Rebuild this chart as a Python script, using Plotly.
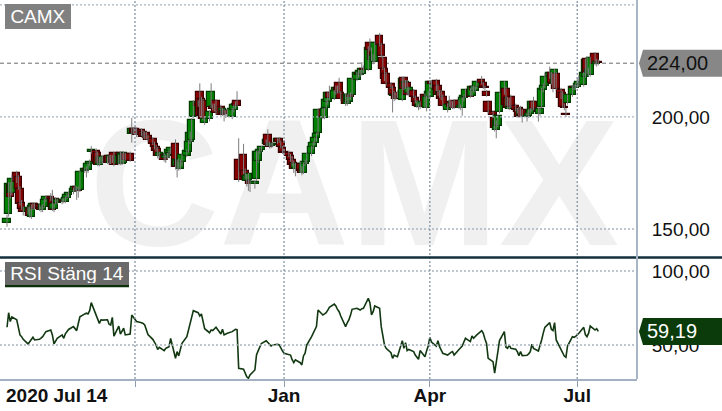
import pandas as pd
import plotly.graph_objects as go

TICKER = "CAMX"
RSI_NAME = "RSI Stäng 14"
START, END = "2020-07-14", "2021-07-14"

# daily OHLC (weekdays), one line per week
opens = [
    152.5, 156.5, 169.5, 166,
    175, 173, 168, 161.6, 159,
    157.8, 159, 155.5, 159.5, 161,
    160.5, 159.5, 158.3, 160, 163,
    164.4, 163.4, 159, 163.4, 161.8,
    162, 162.5, 162, 164, 165,
    166.5, 167.4, 168.8, 168.3, 167.4,
    175.8, 177, 176.3, 179, 184.4,
    185, 184, 178.5, 182, 179.5,
    182, 182.5, 179.5, 182.5, 184,
    179, 184, 179, 179.5, 183.5,
    183.5, 192.4, 194.6, 194.6, 194,
    194, 193.3, 192.5, 192.9, 191.5,
    190, 188, 186.6, 185.7, 182.5,
    183, 181.7, 182.6, 184, 184.8,
    188, 178, 180.5, 177, 180,
    182.6, 184.4, 188.8, 189.7, 200,
    206, 211, 208, 207, 197.5,
    199, 204.5, 204.5, 204, 207,
    204.5, 201.8, 202.7, 201.3, 202.5,
    200, 203, 205.4, 207, 181,
    183, 176, 171.4, 172, 171,
    170, 172.3, 180.4, 184.5, 185.3,
    188, 192, 188, 187, 187.5,
    189, 190, 188.8, 186, 184.5,
    184, 182.6, 181, 179.5, 177,
    179, 176.5, 175, 179, 180,
    183.5, 186.5, 188.5, 190.5, 192.9,
    203, 199.5, 204, 206.7, 210.7,
    208, 211.5, 213, 215, 210.7,
    209.8, 205.8, 206.7, 209.5, 209.8,
    216.5, 219.6, 218.8, 219, 221.4,
    221, 233, 230, 225.4, 224.5,
    236, 232, 226.3, 221.4, 219.2,
    214.7, 213, 209.5, 209.8, 210.8,
    207.6, 217.4, 213.5, 215.3, 210.7,
    211.6, 208.5, 206.7, 205.4, 204.3,
    209.8, 204, 209, 209, 215.6,
    216, 213.8, 209.8, 211, 209,
    203, 205.4, 206.8, 204.6, 207.3,
    207, 204, 204, 208.5, 209,
    212, 209.4, 213.4, 211.7, 213.5,
    216.5, 215, 213.5, 211, 206.7,
    202, 199.5, 194, 196, 202,
    210.7, 212.5, 208.3, 203.4, 209,
    205, 203, 203.9, 200.4, 203,
    200, 200.3, 201.5, 203, 206.7,
    203.5, 201.4, 204.5, 212, 214,
    218, 219.6, 215, 214.5, 219.2,
    212, 210.7, 204.5, 201.5, 206.3,
    209.8, 213.4, 212.8, 213.4, 214.3,
    214.3, 218, 226, 219.6, 218.8,
    228, 223.7, 224.5,
]
highs = [
    156.5, 171, 171, 174,
    176, 174, 169, 163, 160,
    160, 160, 161, 161.5, 161.5,
    161, 160.5, 161, 163.5, 165,
    166, 167.5, 161.5, 164, 163.5,
    163.5, 164, 164.5, 166, 166.5,
    168.5, 169.5, 169, 169, 176,
    177.5, 178, 179.5, 181, 187,
    186, 184.5, 182, 182.5, 182.5,
    182.5, 183, 183, 183, 184.5,
    183, 184.5, 184, 184.5, 184,
    184.5, 199.5, 195.5, 196, 195,
    195, 194, 193.5, 193.5, 192,
    191, 189, 187.5, 186.5, 184.5,
    184, 183, 184, 185.5, 186.5,
    190, 181, 181.5, 181, 183.5,
    185.5, 189.5, 193.5, 199.5, 207.5,
    207.5, 215, 209, 208, 200,
    203, 215, 206, 206, 208,
    205.5, 204, 203.5, 203, 203.5,
    204, 205.5, 207, 211.5, 190.5,
    188, 177, 174.5, 175, 172,
    172, 184.8, 185, 186.5, 187,
    190, 194.5, 189, 188.5, 189,
    190.5, 191, 189.5, 187, 185.5,
    185, 183.5, 182.6, 180.5, 179.5,
    180, 178, 179.5, 181, 184,
    187, 189, 191, 193, 203.5,
    204, 204, 208, 211, 214,
    212, 214, 214, 217.5, 211.5,
    210.5, 210, 210.5, 211, 217.5,
    220, 221, 221, 224.5, 223,
    231.5, 235, 231, 228, 233.5,
    237.5, 233, 227.5, 222, 220,
    215.5, 214, 211.5, 211, 212,
    218, 218, 216.5, 216.5, 213.5,
    212.5, 209.5, 207.5, 206, 207,
    210.5, 209.5, 211.8, 216, 216.5,
    217, 214.5, 212, 212, 210,
    206, 209.5, 207.5, 207, 208,
    207.5, 205.5, 208.8, 210, 212.5,
    213, 213.8, 214, 214, 216,
    218.3, 215.5, 214, 212, 207.5,
    202.5, 200, 198.5, 200.8, 211,
    216, 213.5, 209, 208.5, 210,
    206, 204, 204.5, 205, 203.5,
    202, 203.5, 204, 207, 209,
    204, 204, 213, 215, 219.6,
    222.5, 220, 219.6, 221.5, 220,
    213, 211.5, 206, 204, 210,
    214, 214.5, 215, 217.8, 218.5,
    220, 226, 227, 222, 226.8,
    229, 226, 225.5,
]
lows = [
    151, 155.5, 163.5, 165,
    170.5, 167.5, 160.5, 158.5, 156,
    156.5, 155, 154.5, 158.5, 158.5,
    158, 157.5, 157.5, 159.5, 162,
    162.5, 158, 157.5, 161, 161,
    161, 161.5, 161.5, 163.5, 164,
    165.5, 166.5, 163, 164, 166.5,
    175, 173, 175, 178, 183.5,
    179.5, 178, 178, 179, 179,
    179, 179, 179, 179.5, 178,
    178.5, 178.5, 178.5, 179, 180.5,
    180, 188.5, 192.5, 192.5, 191,
    191.5, 190.5, 190, 190, 189,
    187.5, 185.5, 184.5, 181.5, 181.5,
    180, 179.5, 181, 181.5, 183.5,
    176.5, 173, 176, 176.5, 178,
    182, 184, 188, 189, 199.5,
    204.5, 200, 200.5, 198.5, 196.5,
    198, 204, 203, 202.5, 201,
    200.5, 200.5, 198, 199.5, 200,
    199, 202, 203.5, 204.5, 171,
    174.5, 172, 169, 167, 166.5,
    168, 171.5, 179.5, 183.5, 184.5,
    187, 187, 186, 186, 186.5,
    188, 188.5, 186, 183.5, 183,
    182, 180, 178, 175, 173.5,
    175, 174, 174.5, 178, 179,
    182.5, 185.5, 187.5, 189, 192,
    199, 199, 203.5, 205.5, 207.5,
    207.5, 210, 210.5, 210.5, 207,
    205, 205, 206, 207.5, 209,
    216, 217.5, 218, 218.5, 219.5,
    220.5, 229.5, 225, 223.5, 224,
    231.5, 226.5, 221, 216, 214,
    212.5, 202, 207, 207.5, 208.5,
    207, 212, 212.5, 209.5, 209.5,
    208.5, 206, 204, 203, 203.5,
    204, 202.5, 208, 208.5, 213,
    211.5, 209.5, 208.5, 207.5, 204.5,
    202, 204.5, 204, 203.5, 203.5,
    203.5, 203, 200.5, 207, 208.5,
    208.5, 209, 211, 211, 212.5,
    214.5, 212.5, 212, 209, 201.5,
    200.5, 193.5, 190.5, 195.5, 201.5,
    210, 205, 203.5, 203, 204,
    202.5, 201.5, 199.5, 200, 197.5,
    198, 199.5, 201, 202.5, 203,
    197.9, 200.5, 204, 211, 213,
    217, 214.5, 211, 213, 212,
    208, 204, 203, 200, 205.5,
    209, 212, 212, 213, 213.5,
    213.5, 217.5, 219, 218, 218,
    223, 222.5, 223,
]
closes = [
    154.5, 170, 164.5, 172.5,
    171, 168, 161, 159, 157.5,
    159.5, 156, 160.3, 161.3, 159,
    159, 158.3, 160.5, 163, 164.3,
    163.2, 158.4, 161, 161.6, 163,
    163, 162.2, 164, 165.2, 166,
    168, 168.8, 167.2, 167, 175.5,
    177, 176.3, 179, 180, 185.3,
    180, 178.5, 181.5, 179.5, 182,
    179.5, 179.5, 182.5, 180, 178.5,
    182.6, 179, 183.5, 184, 181,
    180.4, 194.6, 193, 193, 192,
    192, 191, 191.5, 190.6, 189.8,
    188, 186.5, 185, 182.5, 184,
    181, 182.6, 183.5, 185.3, 186,
    177.7, 180.8, 177.5, 180, 183,
    184.8, 188.8, 192.9, 198.7, 206.7,
    205, 200.4, 201, 199, 199,
    202, 211, 203.6, 205, 201.8,
    201, 203.6, 201.3, 202.5, 201.5,
    203.6, 205.4, 205.5, 205, 172,
    175.4, 173, 173.7, 174.5, 170,
    171, 184.4, 184.4, 185.3, 186.6,
    189.7, 187.5, 186.6, 188, 188,
    190, 189, 186.6, 184, 184,
    182.6, 181, 178.6, 177, 179,
    176, 175, 179, 180, 183.5,
    186.5, 188.5, 190.5, 192.4, 203,
    200, 203.6, 207.6, 210.7, 208.5,
    211.5, 213, 212, 211, 208,
    205.8, 209.8, 209.8, 209, 217,
    219.6, 218.8, 220.7, 221.4, 221,
    231, 230, 225.4, 227, 233,
    232, 227, 221.4, 217, 214.7,
    213, 210, 209.8, 208, 209,
    217, 212.5, 215.8, 210, 213,
    209, 206.7, 205, 204.3, 206.5,
    204.6, 209, 211.3, 215.6, 214.5,
    212, 209.8, 211, 208, 205,
    205.4, 205.8, 204.6, 206.5, 204,
    204, 205, 208.5, 209.5, 212,
    209, 213.4, 212, 213.5, 215.5,
    215, 213, 213, 209.4, 202,
    201, 195, 198, 200.4, 210.7,
    215.6, 205.4, 204, 208.3, 204.5,
    203, 202, 200.1, 203, 200.1,
    200.5, 201.5, 203, 206.7, 203.5,
    202, 203.6, 212.5, 214, 217.9,
    219.6, 215, 214.5, 221, 212.5,
    208.5, 204.5, 204, 201, 209.8,
    213.4, 212.8, 213.5, 214.5, 215.5,
    219.6, 225.4, 219.6, 221, 226.3,
    223.7, 224.5, 224,
]
rsi = [
    62, 71.8, 65.8, 69,
    67, 62, 56.8, 55.6, 53.8,
    50.7, 52.3, 54, 55.2, 53.4,
    53.8, 54.6, 55.6, 57.3, 59,
    60.1, 56.8, 50.7, 53, 54.5,
    56.8, 54.5, 57.5, 59, 60.5,
    62.4, 61, 59.7, 64.5, 69,
    71, 71.5, 71, 73.2, 78.6,
    70.5, 68, 64.6, 67, 66.8,
    67, 64, 63.5, 68.7, 56,
    62.8, 57.4, 59.5, 61.3, 56.8,
    57.4, 70.3, 68.7, 67.3, 65.8,
    65, 64.6, 63.5, 60.1, 57,
    53.8, 52.3, 50, 47, 48.4,
    46.2, 47.7, 48.3, 48.9, 54.5,
    41, 45.5, 42.6, 47, 51.1,
    55.6, 60, 63.5, 68.7, 73.2,
    71.8, 69.6, 71, 65, 61,
    58.3, 60.1, 59.7, 61, 62,
    57.4, 60.6, 56.8, 57.5, 57.9,
    59, 60.1, 60.6, 60.4, 34.2,
    33.6, 30.9, 28.5, 27.5, 29.7,
    33.1, 43.2, 46, 49.3, 51,
    52.9, 51.5, 50.7, 49.3, 50,
    50.5, 50, 47.7, 46, 44.4,
    43.5, 43.2, 40, 38.1, 39.9,
    38, 36.5, 42.6, 44.4, 50,
    55.6, 58.3, 60.5, 62.4, 73.6,
    70.3, 71, 71.8, 73.5, 75.5,
    77.7, 76.4, 74, 72.5, 69.6,
    62.4, 65, 66.9, 70, 74.1,
    74.8, 74, 73.6, 74.5, 74.8,
    81.5, 78.6, 70.3, 72.5, 76.4,
    74.8, 62.4, 54.5, 50, 47.7,
    44.8, 41, 43.2, 42.5, 42.1,
    52.9, 47.7, 51.6, 46.2, 47,
    45.5, 43.2, 41.5, 40.3, 46.2,
    42.1, 46, 49.3, 55.2, 52,
    49.3, 52.9, 48.9, 46, 44.4,
    43.2, 44.4, 45, 45.5, 43.2,
    47, 48, 49.3, 52, 54.5,
    52.3, 56.1, 54.5, 56, 56.8,
    59.7, 57.9, 54, 51.1, 41,
    38.7, 30.9, 39.9, 45.5, 53,
    59, 48.4, 47.7, 50, 47.7,
    47.1, 45.5, 42.8, 45.5, 42.8,
    43, 44, 45.5, 50.5, 47.7,
    45.9, 49, 53.4, 58, 61.9,
    65.1, 60.6, 59.7, 65.1, 53.4,
    46.6, 44, 42.5, 41.7, 49.3,
    55.6, 55.2, 55.8, 56.8, 57.9,
    61.9, 57, 55.6, 58, 62.8,
    60.1, 61, 59.19,
]

month_ticks = ["2020-10-01", "2021-01-01", "2021-04-01", "2021-07-01"]
month_labels = ["", "Jan", "Apr", "Jul"]
first_label = "2020 Jul 14"
price_ticks = [150, 200]
price_grid = [150, 200, 250]
rsi_ticks = [50, 100]
x_range = ["2020-07-09 16:00", "2021-08-06 21:00"]
price_range = [137.5, 252.2]
rsi_range = [27.0, 108.8]

dates = pd.bdate_range(START, END)
n = len(dates)
assert len(opens) == len(highs) == len(lows) == len(closes) == len(rsi) == n, (
    n, len(opens), len(highs), len(lows), len(closes), len(rsi))

FONT = "Liberation Sans, Arial, sans-serif"
GREEN, GREEN_EDGE = "#008000", "#003c00"
RED, RED_EDGE = "#850000", "#3c0000"
DAY_MS = 86400000

up = [c >= o for o, c in zip(opens, closes)]
body_base = [min(o, c) for o, c in zip(opens, closes)]
body_h = [max(abs(c - o), 0.5) for o, c in zip(opens, closes)]
wick_x, wick_y = [], []
for d, lo, hi in zip(dates, lows, highs):
    wick_x += [d, d, None]
    wick_y += [lo, hi, None]

fig = go.Figure()

# watermark on the base price axes (clipped to the price pane)
t0, t1 = pd.Timestamp(x_range[0]), pd.Timestamp(x_range[1])
wm_x = t0 + (t1 - t0) * 0.556
wm_y = price_range[0] + (price_range[1] - price_range[0]) * 0.222
fig.add_trace(go.Scatter(
    x=[wm_x], y=[wm_y], mode="text", text=[TICKER], textposition="middle center",
    textfont=dict(family=FONT, size=180, color="#f0f0f0", weight="bold"),
    xaxis="x2", yaxis="y", hoverinfo="skip", cliponaxis=True))

# candles on an overlaying price axis so they sit above the watermark
fig.add_trace(go.Scatter(
    x=wick_x, y=wick_y, mode="lines", line=dict(color="#7d7d7d", width=1),
    xaxis="x2", yaxis="y3", hoverinfo="skip"))

fig.add_trace(go.Bar(
    x=dates, y=body_h, base=body_base, width=[4.6 * DAY_MS] * n,
    marker=dict(color=[GREEN if u else RED for u in up],
                line=dict(color=[GREEN_EDGE if u else RED_EDGE for u in up], width=1.2)),
    xaxis="x2", yaxis="y3", hoverinfo="skip"))

fig.add_trace(go.Scatter(
    x=dates, y=rsi, mode="lines", line=dict(color="#123812", width=1.6),
    xaxis="x", yaxis="y2", hoverinfo="skip"))

PRICE_DOM = [0.3219, 1.0]
RSI_DOM = [0.0, 0.3193]
axis_font = dict(family=FONT, size=19, color="#111111")

fig.update_layout(
    width=722, height=411,
    margin=dict(l=0, r=85, t=0, b=32),
    paper_bgcolor="white", plot_bgcolor="white",
    showlegend=False, barmode="overlay", bargap=0,
    separators=", ",
    font=dict(family=FONT),
    xaxis=dict(domain=[0, 1], anchor="y2", type="date", range=x_range,
               tickvals=month_ticks, ticktext=month_labels,
               ticks="outside", ticklen=6, tickwidth=1, tickcolor="#8e9cad",
               ticklabelstandoff=-8,
               tickfont=dict(family=FONT, size=19, color="#111111", weight="bold"),
               showgrid=False, zeroline=False, showline=True,
               linecolor="#a3b1c2", linewidth=2, automargin=False),
    xaxis2=dict(domain=[0, 1], anchor="y", type="date", matches="x",
                showticklabels=False, ticks="", showgrid=False, zeroline=False,
                showline=False, automargin=False),
    yaxis=dict(domain=PRICE_DOM, anchor="x2", side="right", range=price_range,
               tickvals=price_ticks, tickformat=".2f", ticks="outside", ticklen=10,
               tickcolor="rgba(0,0,0,0)", tickfont=axis_font,
               showgrid=False, zeroline=False, showline=False, automargin=False),
    yaxis3=dict(overlaying="y", anchor="x2", side="right", range=price_range,
                showticklabels=False, ticks="", showgrid=False, zeroline=False,
                showline=False, automargin=False),
    yaxis2=dict(domain=RSI_DOM, anchor="x", side="right", range=rsi_range,
                tickvals=rsi_ticks, tickformat=".2f", ticks="outside", ticklen=10,
                tickcolor="rgba(0,0,0,0)", tickfont=axis_font,
                showgrid=False, zeroline=False, showline=False, automargin=False),
)

shapes = []
# last-price dashed line
shapes.append(dict(type="line", xref="paper", x0=0, x1=1, yref="y",
                   y0=closes[-1], y1=closes[-1], layer="below",
                   line=dict(color="#6a6a6a", width=1, dash="4px,3px")))
# dotted grid drawn over the marks
for v in price_grid:
    shapes.append(dict(type="line", xref="paper", x0=0, x1=1, yref="y", y0=v, y1=v,
                       layer="above", line=dict(color="#a9b4c1", width=1.3, dash="2px,2px")))
for v in rsi_ticks:
    shapes.append(dict(type="line", xref="paper", x0=0, x1=1, yref="y2", y0=v, y1=v,
                       layer="above", line=dict(color="#a9b4c1", width=1.3, dash="2px,2px")))
for d in month_ticks:
    shapes.append(dict(type="line", xref="x", x0=d, x1=d, yref="paper", y0=0, y1=1,
                       layer="above", line=dict(color="#8795a6", width=1.3, dash="2px,2px")))
# pane separator and right frame
sep_y = (PRICE_DOM[0] + RSI_DOM[1]) / 2
shapes.append(dict(type="line", xref="paper", x0=0, x1=722 / 637, yref="paper",
                   y0=sep_y, y1=sep_y, layer="above",
                   line=dict(color="#12313d", width=2.5)))
shapes.append(dict(type="line", xref="paper", x0=1, x1=1, yref="paper", y0=0, y1=1,
                   layer="above", line=dict(color="#a7b5c6", width=2)))
# RSI label underline
shapes.append(dict(type="line", xref="paper", x0=5 / 637, x1=129 / 637, yref="paper",
                   y0=(379 - 286) / 379, y1=(379 - 286) / 379, layer="above",
                   line=dict(color="#0a2f0a", width=2.5)))
# value badges
badge = "M 2,0 L 6,13.5 L 90,13.5 L 90,-13.5 L 6,-13.5 Z"
shapes.append(dict(type="path", xref="paper", yref="y", xsizemode="pixel",
                   ysizemode="pixel", xanchor=1, yanchor=closes[-1], path=badge,
                   fillcolor="#878787", line=dict(width=0), layer="above"))
shapes.append(dict(type="path", xref="paper", yref="y2", xsizemode="pixel",
                   ysizemode="pixel", xanchor=1, yanchor=rsi[-1], path=badge,
                   fillcolor="#0b3b0b", line=dict(width=0), layer="above"))
fig.update_layout(shapes=shapes)

def fmt(v):
    return f"{v:.2f}".replace(".", ",")

annotations = [
    dict(xref="paper", yref="paper", x=0, y=1, xanchor="left", yanchor="top",
         xshift=5, yshift=-4, text=TICKER, showarrow=False, width=62, height=21,
         borderpad=2, borderwidth=0, bgcolor="#808080",
         font=dict(family=FONT, size=19, color="white")),
    dict(xref="paper", yref="paper", x=0, y=RSI_DOM[1], xanchor="left", yanchor="top",
         xshift=5, yshift=-4, text=RSI_NAME, showarrow=False, width=120, height=19,
         borderpad=2, borderwidth=0, bgcolor="#6a6a6a",
         font=dict(family=FONT, size=19, color="white")),
    dict(xref="paper", yref="paper", x=0, y=0, xanchor="left", yanchor="top",
         xshift=4, yshift=-4, text=first_label, showarrow=False,
         font=dict(family=FONT, size=19, color="#111111", weight="bold")),
    dict(xref="paper", yref="y", x=1, y=closes[-1], xanchor="left", yanchor="middle",
         xshift=8, text=fmt(closes[-1]), showarrow=False,
         font=dict(family=FONT, size=20, color="#111111")),
    dict(xref="paper", yref="y2", x=1, y=rsi[-1], xanchor="left", yanchor="middle",
         xshift=8, text=fmt(rsi[-1]), showarrow=False,
         font=dict(family=FONT, size=20, color="white")),
]
fig.update_layout(annotations=annotations)

fig.write_html("out.html", config={"displayModeBar": False},
               post_script="document.body.style.margin='0px';document.body.style.overflow='hidden';")
